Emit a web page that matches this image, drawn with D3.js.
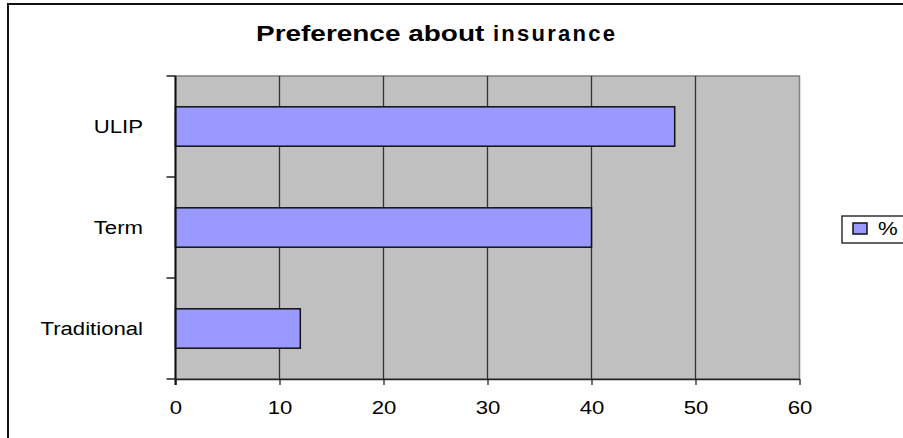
<!DOCTYPE html>
<html>
<head>
<meta charset="utf-8">
<script src="https://cdn.jsdelivr.net/npm/d3@7"></script>
<style>
  html, body { margin: 0; padding: 0; background: #fff; }
  svg { display: block; font-family: "Liberation Sans", Arial, sans-serif; }
</style>
</head>
<body>
<svg id="chart" width="903" height="438"></svg>
<script>
// Preference about insurance (%)
const categories = ["ULIP", "Term", "Traditional"];
const values = [48, 40, 12];
const xTicks = [0, 10, 20, 30, 40, 50, 60];
const seriesName = "%";
const titleMain = "Preference about";
const titleTail = "insurance";

const svg = d3.select("#chart");
const W = 903, H = 438;
const plot = { left: 175.5, right: 799.5, top: 76, bottom: 379 };
const stretch = 1.23; // horizontal widening of all text

// outer frame (top and left edges)
svg.append("path")
  .attr("d", `M8,${H} L8,4 L${W},4`)
  .attr("fill", "none").attr("stroke", "#111").attr("stroke-width", 2);

const x = d3.scaleLinear().domain([0, 60]).range([plot.left, plot.right]);
const y = d3.scaleBand().domain(categories).range([plot.top, plot.bottom])
  .paddingInner(0.61).paddingOuter(0.305);
const yBand = d3.scaleBand().domain(categories).range([plot.top, plot.bottom]);

// widen a text node horizontally
function widen(sel, factor) {
  sel.each(function () {
    const len = this.getComputedTextLength();
    d3.select(this).attr("textLength", len * factor).attr("lengthAdjust", "spacingAndGlyphs");
  });
}

// plot background
svg.append("rect")
  .attr("x", plot.left).attr("y", plot.top)
  .attr("width", plot.right - plot.left).attr("height", plot.bottom - plot.top)
  .attr("fill", "#c0c0c0").attr("stroke", "#808080").attr("stroke-width", 1.5);

// vertical gridlines
svg.append("g").selectAll("line")
  .data(xTicks.filter(d => d > 0 && d < 60))
  .join("line")
  .attr("x1", d => x(d)).attr("x2", d => x(d))
  .attr("y1", plot.top).attr("y2", plot.bottom)
  .attr("stroke", "#333").attr("stroke-width", 1.3);

// bars
svg.append("g").selectAll("rect")
  .data(categories.map((c, i) => ({ c, v: values[i] })))
  .join("rect")
  .attr("x", x(0))
  .attr("y", d => y(d.c))
  .attr("width", d => x(d.v) - x(0))
  .attr("height", y.bandwidth())
  .attr("fill", "#9999ff").attr("stroke", "#111").attr("stroke-width", 1.5);

// x axis
const xAxis = svg.append("g")
  .attr("transform", `translate(0,${plot.bottom})`)
  .call(d3.axisBottom(x).tickValues(xTicks).tickSize(6).tickSizeOuter(0).tickPadding(16));
xAxis.select(".domain").attr("stroke", "#222").attr("stroke-width", 1.5);
xAxis.selectAll(".tick line").attr("stroke", "#222").attr("stroke-width", 1.3);
xAxis.selectAll(".tick text")
  .attr("font-size", 18).attr("fill", "#000")
  .attr("font-family", "Liberation Sans, Arial, sans-serif")
  .call(widen, stretch);

// y axis: line plus boundary ticks between categories
svg.append("line")
  .attr("x1", plot.left).attr("x2", plot.left)
  .attr("y1", plot.top).attr("y2", plot.bottom + 6)
  .attr("stroke", "#111").attr("stroke-width", 2);
const boundaries = categories.map(c => yBand(c)).concat([plot.bottom]);
svg.append("g").selectAll("line")
  .data(boundaries)
  .join("line")
  .attr("x1", plot.left - 9).attr("x2", plot.left)
  .attr("y1", d => d).attr("y2", d => d)
  .attr("stroke", "#222").attr("stroke-width", 1.5);

// category labels
svg.append("g").selectAll("text")
  .data(categories)
  .join("text")
  .attr("x", 143)
  .attr("y", d => yBand(d) + yBand.bandwidth() / 2)
  .attr("dy", "0.35em")
  .attr("text-anchor", "end")
  .attr("font-size", 18).attr("fill", "#000")
  .text(d => d)
  .call(widen, stretch);

// title: main words widened, last word letter-spaced
svg.append("text")
  .attr("x", 256).attr("y", 41)
  .attr("font-size", 22).attr("font-weight", "bold").attr("fill", "#000")
  .text(titleMain).call(widen, 1.27);
svg.append("text")
  .attr("x", 493).attr("y", 41)
  .attr("font-size", 22).attr("font-weight", "bold").attr("fill", "#000")
  .attr("textLength", 122).attr("lengthAdjust", "spacing")
  .text(titleTail);

// legend
const lg = svg.append("g");
lg.append("rect")
  .attr("x", 842).attr("y", 216).attr("width", 80).attr("height", 27)
  .attr("fill", "#fff").attr("stroke", "#111").attr("stroke-width", 1.3);
lg.append("rect")
  .attr("x", 853).attr("y", 223).attr("width", 14).attr("height", 11)
  .attr("fill", "#9999ff").attr("stroke", "#111").attr("stroke-width", 1.5);
lg.append("text")
  .attr("x", 878).attr("y", 229).attr("dy", "0.35em")
  .attr("font-size", 18).attr("fill", "#000")
  .text(seriesName).call(widen, stretch);
</script>
</body>
</html>
